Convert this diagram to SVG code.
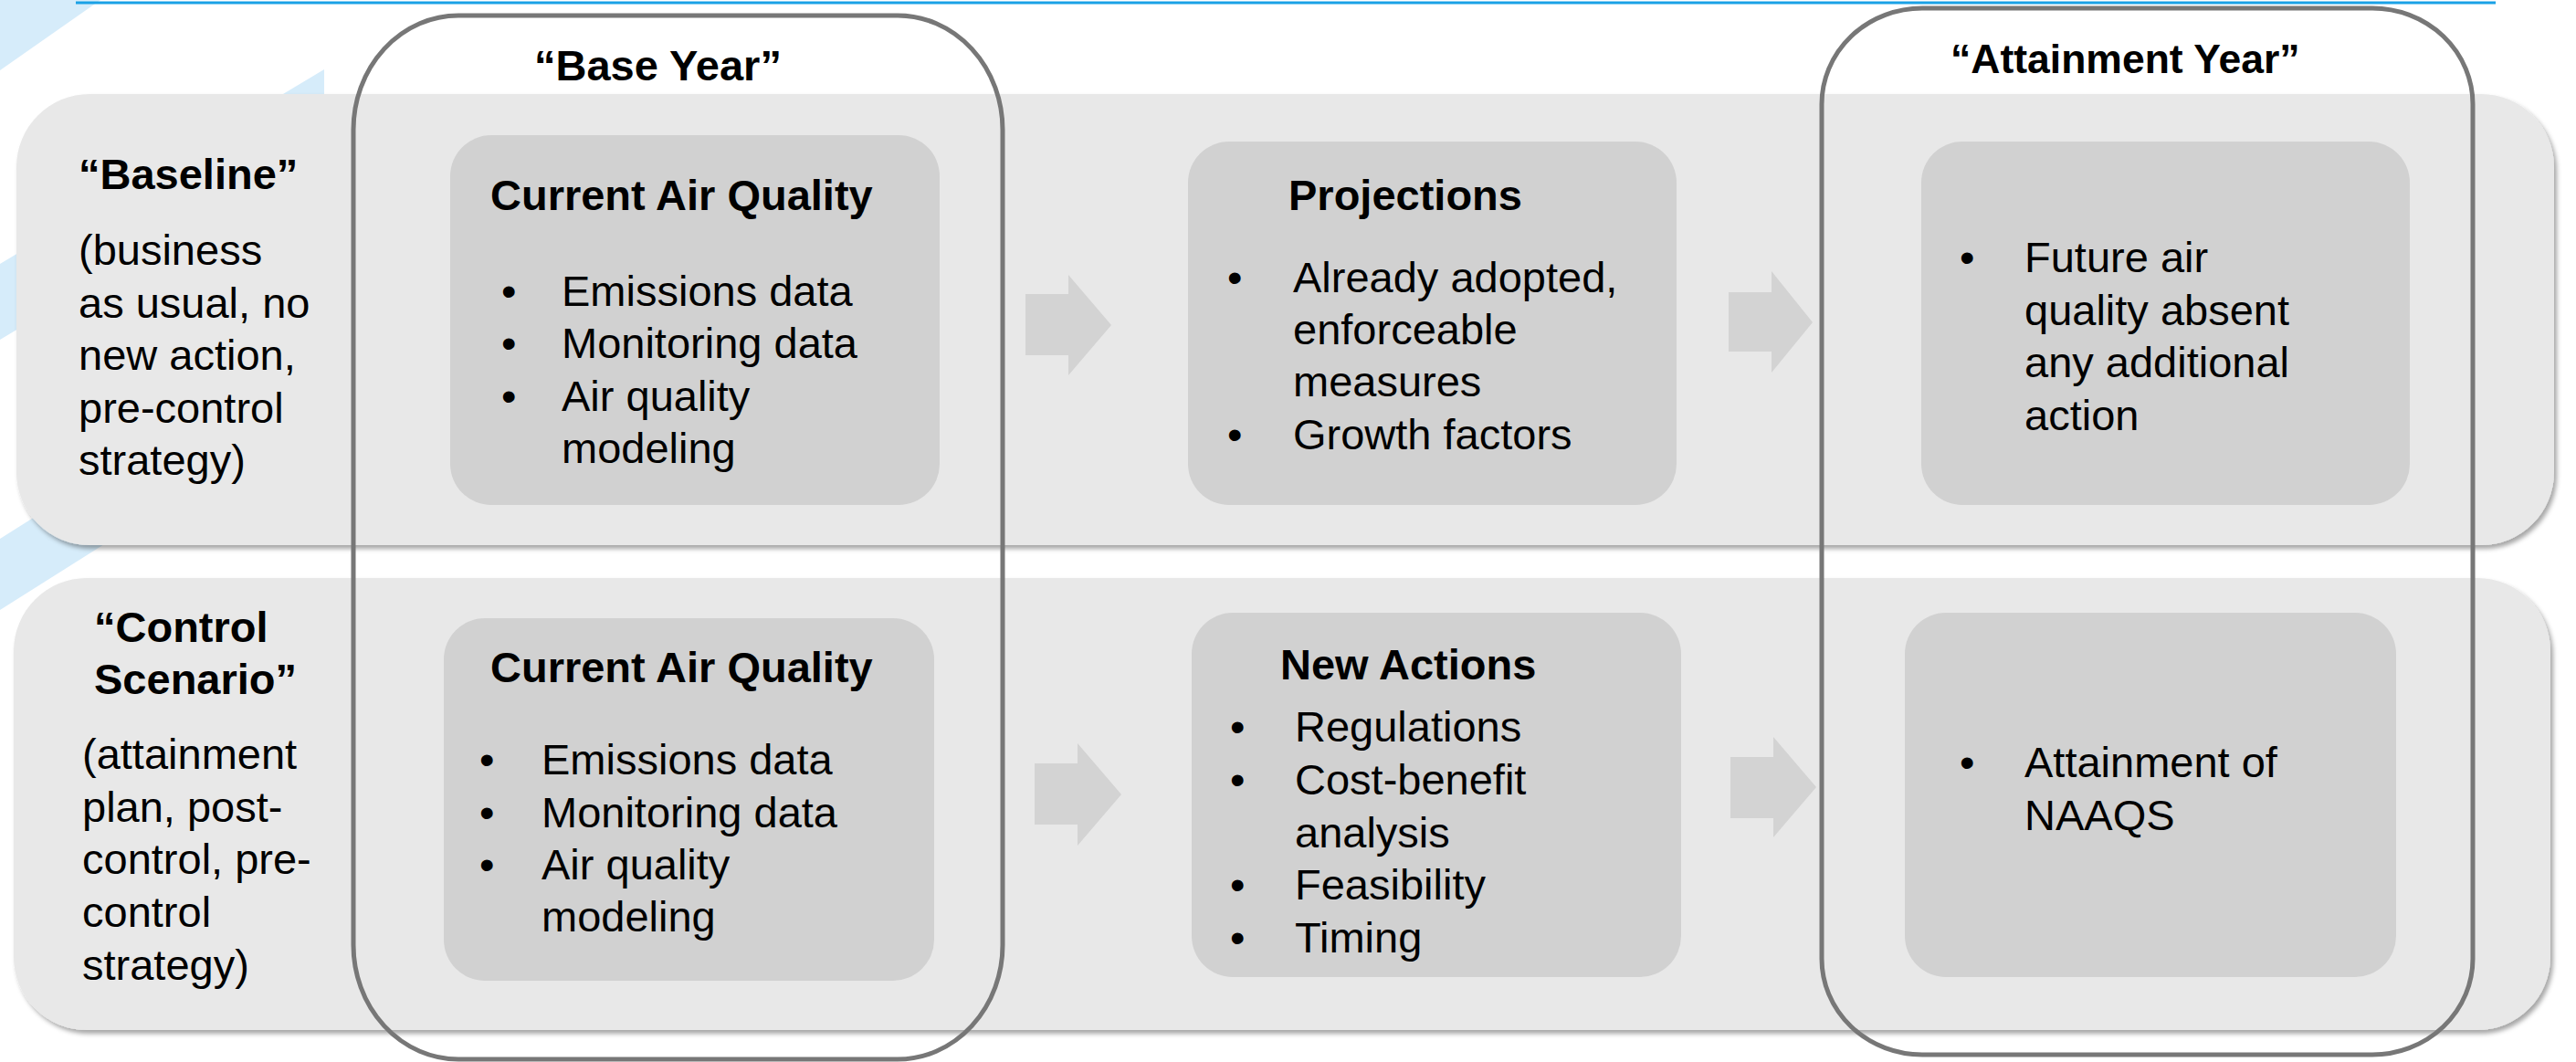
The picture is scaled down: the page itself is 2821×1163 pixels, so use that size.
<svg xmlns="http://www.w3.org/2000/svg" width="2821" height="1163" viewBox="0 0 2821 1163">
<style>
.t{font-family:"Liberation Sans",Arial,sans-serif;font-size:47px;fill:#000}
.b{font-weight:bold}
.band{fill:#e8e8e8;filter:url(#sh)}
.box{fill:#d1d1d1}
.col{fill:none;stroke:#777;stroke-width:5}
.arr{fill:#d3d3d3}
.deco{fill:#d6ecfa}
</style>
<defs>
<filter id="sh" x="-5%" y="-10%" width="110%" height="125%">
<feDropShadow dx="3" dy="4" stdDeviation="2.5" flood-color="#000" flood-opacity="0.35"/>
</filter>
</defs>
<rect width="2821" height="1163" fill="#fff"/>
<g id="decoration">
<polygon class="deco" points="0,0 110,0 0,77"/>
<polygon class="deco" points="0,289 355,76 355,159 0,372"/>
<polygon class="deco" points="0,590 355,366 355,444 0,668"/>
<line x1="83" y1="3" x2="2733" y2="3" stroke="#1aa1e6" stroke-width="3"/>
</g>
<g id="row-baseline">
<rect class="band" x="18" y="103" width="2779" height="494" rx="80"/>
<text class="t b" x="86" y="207">“Baseline”</text>
<text class="t" x="86" y="290">(business</text>
<text class="t" x="86" y="348">as usual, no</text>
<text class="t" x="86" y="405">new action,</text>
<text class="t" x="86" y="463">pre-control</text>
<text class="t" x="86" y="520">strategy)</text>
</g>
<g id="row-control">
<rect class="band" x="15" y="633" width="2778" height="495" rx="80"/>
<text class="t b" x="103" y="703">“Control</text>
<text class="t b" x="103" y="760">Scenario”</text>
<text class="t" x="90" y="842">(attainment</text>
<text class="t" x="90" y="900">plan, post-</text>
<text class="t" x="90" y="957">control, pre-</text>
<text class="t" x="90" y="1015">control</text>
<text class="t" x="90" y="1073">strategy)</text>
</g>
<g id="box-current-baseline">
<rect class="box" x="493" y="148" width="536" height="405" rx="45"/>
<text class="t b" x="537" y="230">Current Air Quality</text>
<text class="t" x="549" y="335">•</text><text class="t" x="615" y="335">Emissions data</text>
<text class="t" x="549" y="392">•</text><text class="t" x="615" y="392">Monitoring data</text>
<text class="t" x="549" y="450">•</text><text class="t" x="615" y="450">Air quality</text>
<text class="t" x="615" y="507">modeling</text>
</g>
<g id="box-projections">
<rect class="box" x="1301" y="155" width="535" height="398" rx="45"/>
<text class="t b" x="1411" y="230">Projections</text>
<text class="t" x="1344" y="320">•</text><text class="t" x="1416" y="320">Already adopted,</text>
<text class="t" x="1416" y="377">enforceable</text>
<text class="t" x="1416" y="434">measures</text>
<text class="t" x="1344" y="492">•</text><text class="t" x="1416" y="492">Growth factors</text>
</g>
<g id="box-future">
<rect class="box" x="2104" y="155" width="535" height="398" rx="45"/>
<text class="t" x="2146" y="298">•</text><text class="t" x="2217" y="298">Future air</text>
<text class="t" x="2217" y="356">quality absent</text>
<text class="t" x="2217" y="413">any additional</text>
<text class="t" x="2217" y="471">action</text>
</g>
<g id="box-current-control">
<rect class="box" x="486" y="677" width="537" height="397" rx="45"/>
<text class="t b" x="537" y="747">Current Air Quality</text>
<text class="t" x="525" y="848">•</text><text class="t" x="593" y="848">Emissions data</text>
<text class="t" x="525" y="906">•</text><text class="t" x="593" y="906">Monitoring data</text>
<text class="t" x="525" y="963">•</text><text class="t" x="593" y="963">Air quality</text>
<text class="t" x="593" y="1020">modeling</text>
</g>
<g id="box-new-actions">
<rect class="box" x="1305" y="671" width="536" height="399" rx="45"/>
<text class="t b" x="1402" y="744">New Actions</text>
<text class="t" x="1347" y="812">•</text><text class="t" x="1418" y="812">Regulations</text>
<text class="t" x="1347" y="870">•</text><text class="t" x="1418" y="870">Cost-benefit</text>
<text class="t" x="1418" y="928">analysis</text>
<text class="t" x="1347" y="985">•</text><text class="t" x="1418" y="985">Feasibility</text>
<text class="t" x="1347" y="1043">•</text><text class="t" x="1418" y="1043">Timing</text>
</g>
<g id="box-attainment">
<rect class="box" x="2086" y="671" width="538" height="399" rx="45"/>
<text class="t" x="2146" y="851">•</text><text class="t" x="2217" y="851">Attainment of</text>
<text class="t" x="2217" y="909">NAAQS</text>
</g>
<g id="connectors">
<polygon class="arr" points="1123,322 1170,322 1170,301 1217,356 1170,411 1170,389 1123,389"/>
<polygon class="arr" points="1893,320 1940,320 1940,297 1985,353 1940,408 1940,385 1893,385"/>
<polygon class="arr" points="1133,836 1180,836 1180,814 1228,870 1180,926 1180,903 1133,903"/>
<polygon class="arr" points="1895,829 1942,829 1942,807 1989,862 1942,917 1942,896 1895,896"/>
</g>
<g id="col-base-year">
<rect class="col" x="387" y="17" width="711" height="1143" rx="115" ry="125"/>
<text class="t b" x="585" y="88">“Base Year”</text>
</g>
<g id="col-attainment-year">
<rect class="col" x="1995" y="9" width="713" height="1146" rx="110" ry="105"/>
<text class="t b" x="2136" y="80" style="font-size:44.5px">“Attainment Year”</text>
</g>
</svg>
